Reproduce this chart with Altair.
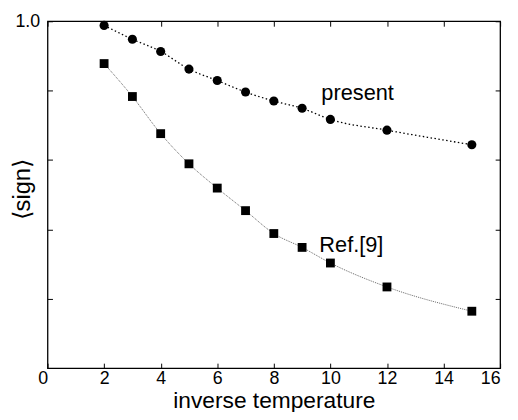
import altair as alt
import pandas as pd

# ---- data ----
beta = [2, 3, 4, 5, 6, 7, 8, 9, 10, 12, 15]
present = [0.988, 0.948, 0.913, 0.862, 0.829, 0.796, 0.770, 0.749, 0.717, 0.686, 0.644]
ref9 = [0.878, 0.783, 0.676, 0.589, 0.519, 0.454, 0.388, 0.348, 0.303, 0.234, 0.164]

x_ticks = [0, 2, 4, 6, 8, 10, 12, 14, 16]
y_ticks = [0.2, 0.4, 0.6, 0.8, 1.0]

ann_text = ["present", "Ref.[9]"]
ann_x = [9.68, 9.61]
ann_y = [0.772, 0.336]

FONT = "Liberation Sans"

df_p = pd.DataFrame({"beta": beta, "sign": present})
df_r = pd.DataFrame({"beta": beta, "sign": ref9})
df_a = pd.DataFrame({"beta": ann_x, "sign": ann_y, "label": ann_text})

xs = alt.Scale(domain=[0, 16], nice=False, zero=False)
ys = alt.Scale(domain=[0, 1], nice=False, zero=False)

common = dict(offset=-5, tickSize=5, domain=False, grid=False,
              tickColor="black", tickWidth=1,
              labelFont=FONT, labelFontSize=18, labelColor="black",
              titleFont=FONT, titleColor="black", titleFontWeight="normal")

ax_bottom = alt.Axis(orient="bottom", values=x_ticks, labelPadding=2,
                     labelOffset={"condition": {"test": "datum.value === 0", "value": -10}, "value": 0},
                     title="inverse temperature", titleFontSize=23, titlePadding=2,
                     **common)
ax_left = alt.Axis(orient="left", values=y_ticks, labelPadding=8,
                   labelExpr="datum.value == 1 ? '1.0' : ''",
                   title="⟨sign⟩", titleFontSize=24, titleX=-18, titleY=170,
                   **common)
ax_top = alt.Axis(orient="top", values=x_ticks, labels=False, title=None, **common)
ax_right = alt.Axis(orient="right", values=y_ticks, labels=False, title=None, **common)

line_p = alt.Chart(df_p).mark_line(
    color="black", strokeWidth=1.3, strokeDash=[1.5, 2.5], interpolate="monotone"
).encode(
    x=alt.X("beta:Q", scale=xs, axis=ax_bottom),
    y=alt.Y("sign:Q", scale=ys, axis=ax_left),
)
line_r = alt.Chart(df_r).mark_line(
    color="#666666", strokeWidth=1, strokeDash=[1, 1], interpolate="monotone"
).encode(
    x=alt.X("beta:Q", scale=xs, axis=ax_top),
    y=alt.Y("sign:Q", scale=ys, axis=ax_right),
)
pts_p = alt.Chart(df_p).mark_point(
    shape="circle", filled=True, color="black", size=85, opacity=1
).encode(
    x=alt.X("beta:Q", scale=xs, axis=None),
    y=alt.Y("sign:Q", scale=ys, axis=None),
)
pts_r = alt.Chart(df_r).mark_point(
    shape="square", filled=True, color="black", size=80, opacity=1
).encode(
    x=alt.X("beta:Q", scale=xs, axis=None),
    y=alt.Y("sign:Q", scale=ys, axis=None),
)
txt = alt.Chart(df_a).mark_text(
    align="left", baseline="alphabetic", font=FONT, fontSize=22, color="black"
).encode(
    x=alt.X("beta:Q", scale=xs, axis=None),
    y=alt.Y("sign:Q", scale=ys, axis=None),
    text="label:N",
)

chart = alt.layer(line_p, line_r, pts_p, pts_r, txt).resolve_axis(
    x="independent", y="independent"
).properties(
    width=458, height=351,
    autosize=alt.AutoSizeParams(type="none"),
    padding={"left": 40, "top": 11, "right": 10, "bottom": 42},
    background="white",
).configure_view(stroke="black", strokeWidth=1.3)

chart.save("out.html", embed_options={"renderer": "svg", "actions": False})
